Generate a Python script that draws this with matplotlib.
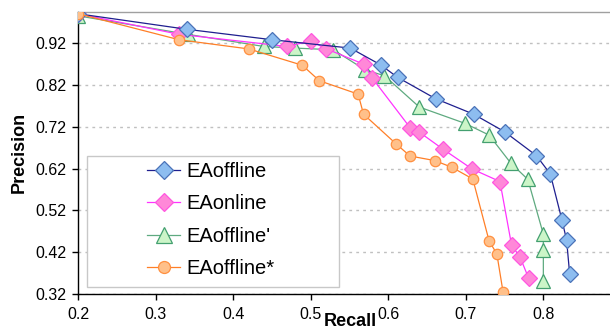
import matplotlib
matplotlib.use("Agg")
import matplotlib.pyplot as plt
from matplotlib.patches import Rectangle

recall_off = [0.200, 0.340, 0.450, 0.551, 0.590, 0.612, 0.661, 0.710, 0.750, 0.791, 0.809, 0.824, 0.830, 0.834]
prec_off   = [0.990, 0.953, 0.928, 0.908, 0.868, 0.838, 0.787, 0.750, 0.708, 0.651, 0.607, 0.497, 0.449, 0.367]

recall_on = [0.200, 0.330, 0.469, 0.500, 0.519, 0.569, 0.579, 0.628, 0.640, 0.670, 0.708, 0.744, 0.759, 0.770, 0.781]
prec_on   = [0.990, 0.941, 0.912, 0.925, 0.907, 0.869, 0.837, 0.718, 0.707, 0.667, 0.619, 0.589, 0.437, 0.408, 0.358]

recall_offp = [0.200, 0.341, 0.439, 0.480, 0.529, 0.570, 0.595, 0.640, 0.699, 0.730, 0.758, 0.780, 0.800, 0.800, 0.800]
prec_offp   = [0.985, 0.941, 0.912, 0.908, 0.904, 0.856, 0.842, 0.767, 0.728, 0.700, 0.633, 0.594, 0.463, 0.425, 0.351]

recall_offs = [0.200, 0.330, 0.420, 0.489, 0.511, 0.561, 0.568, 0.610, 0.628, 0.660, 0.682, 0.709, 0.730, 0.740, 0.748]
prec_offs   = [0.990, 0.928, 0.906, 0.867, 0.830, 0.798, 0.750, 0.679, 0.650, 0.639, 0.623, 0.595, 0.447, 0.416, 0.325]

labels = ["EAoffline", "EAonline", "EAoffline'", "EAoffline*"]
x_ticks = [0.2, 0.3, 0.4, 0.5, 0.6, 0.7, 0.8]
y_ticks = [0.32, 0.42, 0.52, 0.62, 0.72, 0.82, 0.92]

plt.rcParams['font.family'] = ['Liberation Sans', 'DejaVu Sans']

fig = plt.figure(figsize=(6.1, 3.3), dpi=100)
ax = fig.add_axes([0.1284, 0.109, 0.8716, 0.8555])

ax.plot(recall_off, prec_off, color='#1F1F8F', lw=0.9, marker='D', ms=8,
        mfc='#8DBDF0', mec='#4A72B8', mew=0.9, label=labels[0], zorder=5)
ax.plot(recall_on, prec_on, color='#FF33FF', lw=0.9, marker='D', ms=8,
        mfc='#FF88D8', mec='#FF55E0', mew=0.9, label=labels[1], zorder=4)
ax.plot(recall_offp, prec_offp, color='#5FAA80', lw=0.9, marker='^', ms=10,
        mfc='#CCF5C8', mec='#44A070', mew=0.9, label=labels[2], zorder=3)
ax.plot(recall_offs, prec_offs, color='#FF7F27', lw=0.9, marker='o', ms=7.5,
        mfc='#FFC08A', mec='#FF9040', mew=0.9, label=labels[3], zorder=6)

ax.set_xlim(0.2, 0.886)
ax.set_ylim(0.32, 0.995)
ax.set_xticks(x_ticks)
ax.set_xticklabels([f"{v:.1f}" for v in x_ticks])
ax.set_yticks(y_ticks)
ax.set_yticklabels([f"{v:.2f}" for v in y_ticks])
ax.tick_params(axis='both', labelsize=11.5, length=4.3, width=1, direction='out', colors='black')
ax.tick_params(axis='y', pad=4)
ax.tick_params(axis='x', pad=5)
ax.grid(axis='y', color='#C0C0C0', linestyle=(0, (2, 3)), lw=1)
ax.set_axisbelow(True)

for s in ['left', 'bottom']:
    ax.spines[s].set_color('black')
    ax.spines[s].set_linewidth(1)
ax.spines['top'].set_color('#A0A0A0')
ax.spines['top'].set_linewidth(1)
ax.spines['right'].set_visible(False)

# legend frame
frame = Rectangle((0.0164, 0.0248), 0.4736, 0.4642, transform=ax.transAxes,
                  facecolor='white', edgecolor='#C8C8C8', lw=1, zorder=8)
ax.add_patch(frame)

leg = ax.legend(loc='upper left', bbox_to_anchor=(0.130, 0.467), fontsize=14.5,
                frameon=False, handlelength=1.6, labelspacing=0.66,
                borderpad=0, borderaxespad=0, handletextpad=0.35,
                markerscale=1.15)
leg.set_zorder(9)

fig.text(350 / 610, 1 - 321 / 330, 'Recall', fontsize=13, fontweight='bold',
         ha='center', va='center')
fig.text(19 / 610, 1 - 152 / 330, 'Precision', fontsize=13, fontweight='bold',
         ha='center', va='center', rotation=90)

fig.savefig('out.png', dpi=100)
